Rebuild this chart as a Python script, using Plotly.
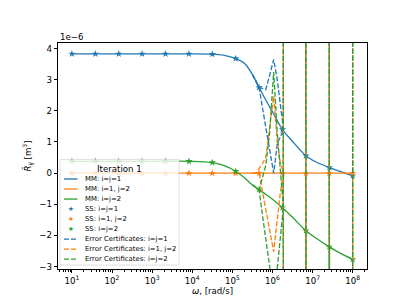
import plotly.graph_objects as go

# ---------------- data (R values in units of 1e-6 m^3, frequency as log10(omega)) -------------
mm_lx = [1.0, 2.0, 3.0, 4.0, 4.5, 4.8, 5.083, 5.3, 5.5, 5.667, 5.833, 6.0, 6.25, 6.5, 6.833, 7.1, 7.417, 7.7, 8.0]
mm_11 = [3.83, 3.83, 3.83, 3.83, 3.82, 3.78, 3.68, 3.53, 3.17, 2.75, 2.35, 1.97, 1.40, 1.02, 0.56, 0.35, 0.18, 0.05, -0.08]
mm_12 = [0, 0, 0, 0, 0, 0, 0, 0, 0, 0, 0, 0, 0, 0, 0, 0, 0, 0, 0]
mm_22 = [0.38, 0.38, 0.38, 0.38, 0.34, 0.24, 0.06, -0.15, -0.38, -0.53, -0.68, -0.84, -1.11, -1.42, -1.85, -2.10, -2.37, -2.58, -2.77]

ss_lx = [1.0, 1.583, 2.167, 2.75, 3.333, 3.917, 4.5, 5.083, 5.667, 6.25, 6.833, 7.417, 8.0]
ss_11 = [3.83, 3.83, 3.83, 3.83, 3.83, 3.83, 3.82, 3.68, 2.75, 1.40, 0.56, 0.18, -0.08]
ss_12 = [0, 0, 0, 0, 0, 0, 0, 0, 0, 0, 0, 0, 0]
ss_22 = [0.38, 0.38, 0.38, 0.38, 0.38, 0.38, 0.34, 0.06, -0.53, -1.11, -1.85, -2.37, -2.77]

H = 400  # far off-chart
ec_lx = [5.5, 5.583, 5.667, 5.75, 5.833, 5.93, 6.03, 6.12, 6.2, 6.27, 6.32, 6.79, 6.833, 6.87, 7.38, 7.417, 7.45, 7.96, 8.0]
ec11_hi = [3.17, 2.97, 2.75, 2.72, 2.68, 3.15, 3.65, 3.0, 2.2, 1.45, H, H, 0.56, H, H, 0.18, H, H, -0.08]
ec11_lo = [3.17, 2.97, 2.75, 2.1, 1.46, 0.7, 0.0, 0.95, 1.2, 1.38, -H, -H, 0.56, -H, -H, 0.18, -H, -H, -0.08]
ec12_hi = [0, 0, 0.15, 0.3, 0.5, 1.5, 2.47, 1.0, 0.3, 0.05, H, H, 0, H, H, 0, H, H, 0]
ec12_lo = [0, 0, 0, -0.6, -1.2, -1.9, -2.52, -1.5, -0.6, -0.05, -H, -H, 0, -H, -H, 0, -H, -H, 0]
ec22_hi = [-0.38, -0.45, -0.53, -0.15, 0.25, 1.3, 3.25, 1.3, 0.0, -1.05, H, H, -1.85, H, H, -2.37, H, H, -2.77]
ec22_lo = [-0.38, -0.45, -0.53, -1.35, -2.15, -3.05, -3.9, -3.05, -1.9, -1.13, -H, -H, -1.85, -H, -H, -2.37, -H, -H, -2.77]

x_ticks_exp = [1, 2, 3, 4, 5, 6, 7, 8]
y_ticks = [-3, -2, -1, 0, 1, 2, 3, 4]

labels_mm = ["MM: i=j=1", "MM: i=1, j=2", "MM: i=j=2"]
labels_ss = ["SS: i=j=1", "SS: i=1, j=2", "SS: i=j=2"]
labels_ec = ["Error Certificates: i=j=1", "Error Certificates: i=1, j=2", "Error Certificates: i=j=2"]
colors = ["#1f77b4", "#ff7f0e", "#2ca02c"]

# ---------------------------------------------------------------------------------------
def w(lx):
    return [10 ** v for v in lx]

fig = go.Figure()
LW = 1.3
for ys, c, n in zip([mm_11, mm_12, mm_22], colors, labels_mm):
    fig.add_trace(go.Scatter(x=w(mm_lx), y=ys, mode="lines", name=n,
                             line=dict(color=c, width=LW, shape="spline", smoothing=0.7)))
for ys, c, n in zip([ss_11, ss_12, ss_22], colors, labels_ss):
    fig.add_trace(go.Scatter(x=w(ss_lx), y=ys, mode="markers", name=n,
                             marker=dict(symbol="star", size=5.5, color=c, line=dict(width=0))))
for (hi, lo), c, n in zip([(ec11_hi, ec11_lo), (ec12_hi, ec12_lo), (ec22_hi, ec22_lo)], colors, labels_ec):
    for ys in (hi, lo):
        fig.add_trace(go.Scatter(x=w(ec_lx), y=ys, mode="lines", name=n,
                                 line=dict(color=c, width=LW, dash="5px,2px")))

# ---------------- layout -----------------
L, R, T, B = 50, 40, 35, 33
W_, H_ = 399, 299
pw, ph = W_ - L - R, H_ - T - B

def px(x):
    return (x - L) / pw

def py(y):
    return (H_ - B - y) / ph

minor_vals = [k * 10 ** d for d in range(0, 9) for k in range(2, 10)]

fig.update_layout(
    width=W_, height=H_, margin=dict(l=L, r=R, t=T, b=B),
    plot_bgcolor="white", paper_bgcolor="white", showlegend=False,
    font=dict(family="DejaVu Sans", size=8.65, color="black"),
    xaxis=dict(type="log", range=[0.653, 8.357],
               tickvals=[10 ** e for e in x_ticks_exp],
               ticktext=["10<sup>%d</sup>" % e for e in x_ticks_exp],
               ticks="outside", ticklen=3.3, tickwidth=0.7, tickcolor="black",
               showline=True, mirror=True, linecolor="black", linewidth=0.8,
               showgrid=False, zeroline=False,
               minor=dict(ticks="outside", ticklen=1.8, tickwidth=0.5, tickcolor="black",
                          tickvals=minor_vals, showgrid=False),
               title=dict(text="<i>ω</i>, [rad/s]", standoff=3, font=dict(size=8.65))),
    yaxis=dict(range=[-3.08, 4.18], tickvals=y_ticks,
               ticktext=[("−%d" % -v) if v < 0 else str(v) for v in y_ticks],
               ticks="outside", ticklen=3.3, tickwidth=0.7, tickcolor="black",
               showline=True, mirror=True, linecolor="black", linewidth=0.8,
               showgrid=False, zeroline=False,
               title=dict(text="<i>R̃</i><sub><i>ij</i></sub> [m<sup>3</sup>]", standoff=6,
                          font=dict(size=8.65))),
)

shapes = []
annots = []
annots.append(dict(x=0, y=1, xref="paper", yref="paper", xanchor="left", yanchor="bottom",
                   text="1e−6", showarrow=False, font=dict(size=8.65), yshift=-1))

# manual legend (matplotlib style)
bx0, bx1, by0, by1 = 52, 171, 154, 262
shapes.append(dict(type="rect", xref="paper", yref="paper", x0=px(bx0), x1=px(bx1),
                   y0=py(by1), y1=py(by0), fillcolor="rgba(255,255,255,0.8)",
                   line=dict(color="rgba(204,204,204,0.8)", width=0.8), layer="above"))
annots.append(dict(x=px(111.5), y=py(163.5), xref="paper", yref="paper", text="Iteration 1",
                   showarrow=False, xanchor="center", yanchor="middle", font=dict(size=8.65)))
rows = [174 + 10.25 * i for i in range(9)]
all_labels = labels_mm + labels_ss + labels_ec
for i, (yy, lab) in enumerate(zip(rows, all_labels)):
    c = colors[i % 3]
    kind = i // 3
    if kind == 0:
        shapes.append(dict(type="line", xref="paper", yref="paper", x0=px(56), x1=px(69.5),
                           y0=py(yy), y1=py(yy), line=dict(color=c, width=LW), layer="above"))
    elif kind == 1:
        annots.append(dict(x=px(62.7), y=py(yy), xref="paper", yref="paper", text="★",
                           showarrow=False, xanchor="center", yanchor="middle",
                           font=dict(size=6.5, color=c)))
    else:
        shapes.append(dict(type="line", xref="paper", yref="paper", x0=px(56), x1=px(69.5),
                           y0=py(yy), y1=py(yy), line=dict(color=c, width=LW, dash="5px,2px"),
                           layer="above"))
    annots.append(dict(x=px(74.5), y=py(yy), xref="paper", yref="paper", text=lab,
                       showarrow=False, xanchor="left", yanchor="middle",
                       font=dict(size=6.9)))

fig.update_layout(shapes=shapes, annotations=annots)
fig.write_html("out.html")
